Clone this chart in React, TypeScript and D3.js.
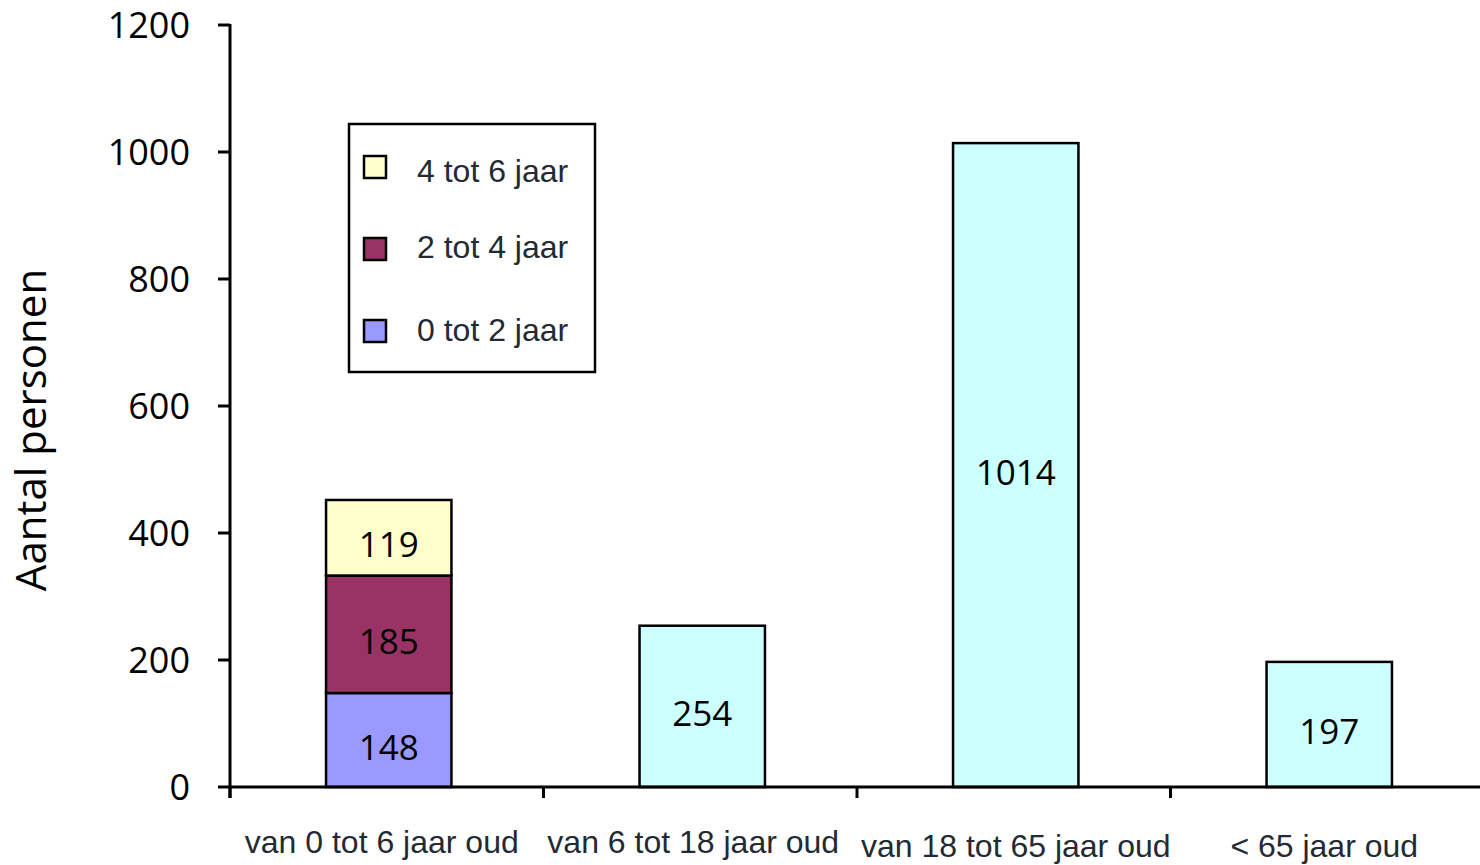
import React from "react";
import * as d3 from "d3";

const categories = ["van 0 tot 6 jaar oud", "van 6 tot 18 jaar oud", "van 18 tot 65 jaar oud", "< 65 jaar oud"];
const stackSeries = ["0 tot 2 jaar", "2 tot 4 jaar", "4 tot 6 jaar"];
const stackValues = [148, 185, 119];
const otherValues = [254, 1014, 197];
const yTicks = [0, 200, 400, 600, 800, 1000, 1200];
const legendOrder = ["4 tot 6 jaar", "2 tot 4 jaar", "0 tot 2 jaar"];
const yTitle = "Aantal personen";

const W = 1480;
const H = 865;
const stackColors: Record<string, string> = {
  "0 tot 2 jaar": "#9999FF",
  "2 tot 4 jaar": "#993366",
  "4 tot 6 jaar": "#FFFFCC",
};
const singleColor = "#CCFFFF";
const numFont = "'Open Sans', sans-serif";
const labFont = "'Liberation Sans', Arial, sans-serif";
const labColor = "#232a33";

export default function App() {
  const x = d3
    .scaleBand<string>()
    .domain(categories)
    .range([232, 1486])
    .paddingInner(0.6)
    .paddingOuter(0.3);
  const y = d3.scaleLinear().domain([0, 1200]).range([787, 25]);
  const x0 = 230;
  const step = (1484 - x0) / categories.length;

  let acc = 0;
  const stacked = stackSeries.map((s, i) => {
    const y0 = acc;
    acc += stackValues[i];
    return { key: s, v: stackValues[i], y0, y1: acc };
  });

  const bars: { cat: string; y0: number; y1: number; v: number; color: string }[] = [];
  stacked.forEach((d) =>
    bars.push({ cat: categories[0], y0: d.y0, y1: d.y1, v: d.v, color: stackColors[d.key] })
  );
  otherValues.forEach((v, i) =>
    bars.push({ cat: categories[i + 1], y0: 0, y1: v, v, color: singleColor })
  );

  const labelDy = [0, 0, 4, 4];
  const labelDx = [-7, -9, 0, -5];
  const legendSwatchY = [167, 249, 331];
  const legendTextY = [182, 258, 341];

  return (
    <svg
      width={W}
      height={H}
      style={{ position: "absolute", left: 0, top: 0, background: "#fff" }}
    >
      {/* bars */}
      {bars.map((b, i) => {
        const bx = x(b.cat)!;
        const top = y(b.y1);
        const bot = y(b.y0);
        return (
          <g key={i}>
            <rect
              x={bx}
              y={top}
              width={x.bandwidth()}
              height={bot - top}
              fill={b.color}
              stroke="#000"
              strokeWidth={2.5}
            />
            <text
              x={bx + x.bandwidth() / 2}
              y={(top + bot) / 2 + 19.5}
              textAnchor="middle"
              fontFamily={numFont}
              fontSize={35}
              fill="#000"
            >
              {b.v}
            </text>
          </g>
        );
      })}

      {/* y axis */}
      <line x1={x0} x2={x0} y1={y(1200) - 1} y2={798} stroke="#000" strokeWidth={3} />
      {yTicks.map((t) => (
        <g key={t}>
          <line x1={218} x2={x0} y1={y(t)} y2={y(t)} stroke="#000" strokeWidth={3} />
          <text
            x={190}
            y={y(t) + 12.5}
            textAnchor="end"
            fontFamily={numFont}
            fontSize={36}
            fill="#000"
          >
            {t}
          </text>
        </g>
      ))}

      {/* x axis */}
      <line x1={x0} x2={W} y1={y(0)} y2={y(0)} stroke="#000" strokeWidth={3} />
      {d3.range(categories.length + 1).map((i) => (
        <line
          key={i}
          x1={x0 + i * step}
          x2={x0 + i * step}
          y1={y(0)}
          y2={798}
          stroke="#000"
          strokeWidth={3}
        />
      ))}
      {categories.map((c, i) => (
        <text
          key={c}
          x={x(c)! + x.bandwidth() / 2 + labelDx[i]}
          y={853 + labelDy[i]}
          textAnchor="middle"
          fontFamily={labFont}
          fontSize={32}
          fill={labColor}
        >
          {c}
        </text>
      ))}

      {/* y title */}
      <text
        transform={`translate(46, 430) rotate(-90)`}
        textAnchor="middle"
        fontFamily={numFont}
        fontSize={42}
        fill="#000"
      >
        {yTitle}
      </text>

      {/* legend */}
      <rect x={349} y={124} width={246} height={248} fill="#fff" stroke="#000" strokeWidth={2.5} />
      {legendOrder.map((s, i) => {
        const cy = legendSwatchY[i];
        return (
          <g key={s}>
            <rect
              x={364}
              y={cy - 11}
              width={22}
              height={22}
              fill={stackColors[s]}
              stroke="#000"
              strokeWidth={2.5}
            />
            <text
              x={417}
              y={legendTextY[i]}
              fontFamily={labFont}
              fontSize={32}
              fill={labColor}
            >
              {s}
            </text>
          </g>
        );
      })}
    </svg>
  );
}
